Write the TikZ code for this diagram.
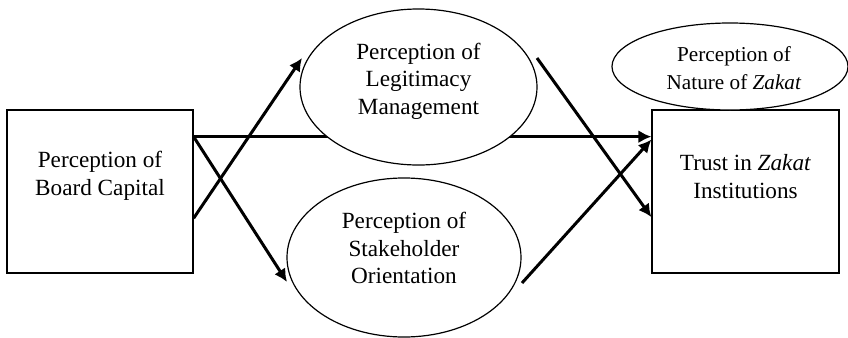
\documentclass[tikz,border=0pt]{standalone}
\usepackage{fontspec}
\setmainfont{Liberation Serif}
\usetikzlibrary{shapes.geometric, arrows.meta, calc}

\begin{document}
\begin{tikzpicture}[x=0.5pt, y=-0.5pt,
  every node/.style={inner sep=0pt},
  construct/.style={draw, line width=0.6pt},
  boxc/.style={construct, rectangle, minimum width=93pt, minimum height=81.5pt},
  ovalc/.style={construct, ellipse, fill=white},
  lbl/.style={align=center, font=\fontsize{11.6}{13.8}\selectfont},
  link/.style={-{Latex[length=6.5pt, width=6.5pt]}, line width=1.5pt}]
\useasboundingbox (0,0) rectangle (848,338);

% the two boxes and the direct path between them (runs behind the top oval)
\node[boxc] (board) at (100,191.5) {};
\node[boxc, minimum width=93.5pt] (trust) at (745.5,191.5) {};
\draw[link] ($(board.north east)!0.166!(board.south east)$)
  -- ($(trust.north west)!0.166!(trust.south west)$);

% mediators and moderator
\node[ovalc, minimum width=118.5pt, minimum height=78pt] (legit) at (418.5,87) {};
\node[ovalc, minimum width=117pt, minimum height=79.5pt] (stake) at (404,257.5) {};
\node[ovalc, minimum width=118pt, minimum height=43.5pt] (nature) at (730,66.5) {};

% labels
\node[lbl] (boardtxt) at ([yshift=7.9pt]board.center) {Perception of\\Board Capital};
\node[lbl] (trusttxt) at ([yshift=7.6pt]trust.center) {Trust in \textit{Zakat}\\Institutions};
\node[lbl] (legittxt) at ([yshift=2.85pt]legit.center) {Perception of\\Legitimacy\\Management};
\node[lbl] (staketxt) at ([yshift=4.75pt]stake.center) {Perception of\\Stakeholder\\Orientation};
\node[lbl, font=\fontsize{10.6}{13.8}\selectfont] (naturetxt)
  at ([xshift=2pt, yshift=-0.75pt]nature.center) {Perception of\\Nature of \textit{Zakat}};

% paths through the mediators
\draw[link] ($(board.north east)!0.663!(board.south east)$) -- ([shift={(-116.5,-29)}]legit.center);
\draw[link] ($(board.north east)!0.166!(board.south east)$) -- ([shift={(-117,24.5)}]stake.center);
\draw[link] ([shift={(118.5,-29)}]legit.center) -- ($(trust.north west)!0.656!(trust.south west)$);
\draw[link] ([shift={(118,25.5)}]stake.center) -- ($(trust.north west)!0.184!(trust.south west)$);
\end{tikzpicture}
\end{document}
